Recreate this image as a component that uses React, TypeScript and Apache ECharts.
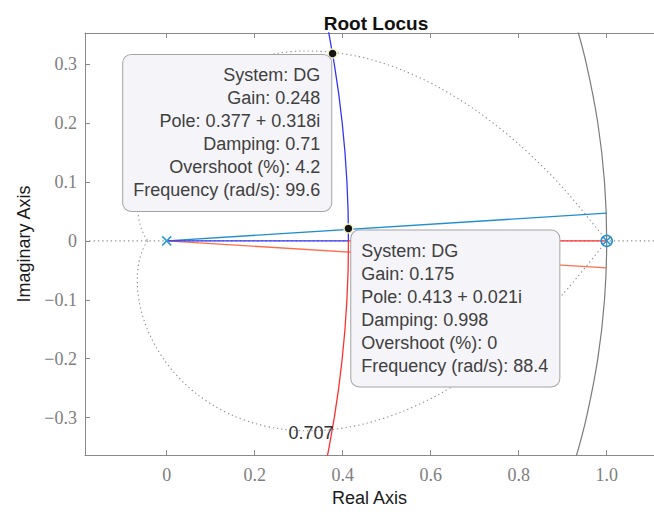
import React, { useEffect, useRef } from 'react';
import * as echarts from 'echarts';

// ---- Axis ticks ----
const xTickValues = [0, 0.2, 0.4, 0.6, 0.8, 1.0];
const xTickLabels = ['0', '0.2', '0.4', '0.6', '0.8', '1.0'];
const yTickValues = [-0.3, -0.2, -0.1, 0, 0.1, 0.2, 0.3];
const yTickLabels = ['\u22120.3', '\u22120.2', '\u22120.1', '0', '0.1', '0.2', '0.3'];

const xRange = [-0.1857, 1.1075];
const yRange = [-0.3636, 0.3528];

// ---- Root locus branches ----
const blueBranch = [
  [0, 0], [0.413, 0], [0.4123, 0.05], [0.4096, 0.1], [0.4052, 0.15], [0.3989, 0.2],
  [0.3909, 0.25], [0.3809, 0.3], [0.3691, 0.35], [0.3639, 0.37],
];
const redBranch = [
  [1, 0], [0.413, 0], [0.4123, -0.05], [0.4096, -0.1], [0.4052, -0.15], [0.3989, -0.2],
  [0.3909, -0.25], [0.3809, -0.3], [0.3691, -0.35], [0.3639, -0.37],
];
const cyanBranch = [[0, 0], [1, 0.047]];
const orangeBranch = [[0, 0], [1, -0.046]];

// ---- Unit circle ----
const unitCircle = [
  [0.929, -0.37], [0.9539, -0.3], [0.9798, -0.2], [0.995, -0.1], [1, 0],
  [0.995, 0.1], [0.9798, 0.2], [0.9539, 0.3], [0.929, 0.37],
];

// ---- Damping 0.707 curve (dotted) ----
const dampingUpper = [
  [1, 0], [0.9003, 0.0903], [0.8024, 0.1627], [0.7077, 0.2189], [0.6174, 0.261],
  [0.5323, 0.2908], [0.4529, 0.3099], [0.3798, 0.3199], [0.313, 0.3223], [0.2527, 0.3185],
  [0.1988, 0.3096], [0.151, 0.2967], [0.1092, 0.2807], [0.0729, 0.2626], [0.0419, 0.243],
  [0.0158, 0.2226], [-0.0059, 0.2018], [-0.0235, 0.1812], [-0.0376, 0.161], [-0.0484, 0.1416],
  [-0.0563, 0.1231], [-0.0618, 0.1057], [-0.0652, 0.0896], [-0.0668, 0.0748], [-0.0669, 0.0613],
  [-0.0658, 0.0491], [-0.0637, 0.0383], [-0.0608, 0.0287], [-0.0573, 0.0204], [-0.0534, 0.0132],
  [-0.0493, 0.007], [-0.0432, 0],
];
const dampingLower = [
  [-0.0432, 0], [-0.0493, -0.007], [-0.0534, -0.0132], [-0.0573, -0.0204], [-0.0608, -0.0287],
  [-0.0637, -0.0383], [-0.0658, -0.0491], [-0.0669, -0.0613], [-0.0668, -0.0748], [-0.0652, -0.0896],
  [-0.0618, -0.1057], [-0.0563, -0.1231], [-0.0484, -0.1416], [-0.0376, -0.161], [-0.0235, -0.1812],
  [-0.0059, -0.2018], [0.0158, -0.2226], [0.0419, -0.243], [0.0729, -0.2626], [0.1092, -0.2807],
  [0.151, -0.2967], [0.1988, -0.3096], [0.2527, -0.3185], [0.313, -0.3223], [0.3798, -0.3199],
  [0.4529, -0.3099], [0.5323, -0.2908], [0.6174, -0.261], [0.7077, -0.2189], [0.8024, -0.1627],
  [0.9003, -0.0903], [1, 0],
];
const realAxisGuide = [[-0.1857, 0], [1.1075, 0]];
const dampingLabelPoint = [[0.328, -0.326]];
const dampingLabelText = '0.707';

// ---- Poles / zeros ----
const polePoints = [[0, 0]];
const poleZeroPoints = [[1, 0]];

// ---- Data tips ----
const tipPoints = [[0.377, 0.318], [0.413, 0.021]];
const tipTexts = [
  ['System: DG', 'Gain: 0.248', 'Pole: 0.377 + 0.318i', 'Damping: 0.71', 'Overshoot (%): 4.2', 'Frequency (rad/s): 99.6'],
  ['System: DG', 'Gain: 0.175', 'Pole: 0.413 + 0.021i', 'Damping: 0.998', 'Overshoot (%): 0', 'Frequency (rad/s): 88.4'],
];

const SANS = '"Liberation Sans", Arial, Helvetica, sans-serif';
const SERIF = '"Liberation Serif", "DejaVu Serif", serif';
const AXIS_COLOR = '#8a8a8a';
const DOT_STYLE = { color: '#8c8c8c', width: 1.1, type: [1.3, 3] as number[] };

function fmt(values: number[], labels: string[]) {
  return (v: number) => {
    const i = values.findIndex((t) => Math.abs(t - v) < 1e-9);
    return i >= 0 ? labels[i] : '';
  };
}

export default function App() {
  const ref = useRef<HTMLDivElement>(null);
  useEffect(() => {
    if (!ref.current) return;
    const chart = echarts.init(ref.current, undefined, { renderer: 'svg' });
    const lineBase = { type: 'line', showSymbol: false, symbol: 'none', silent: true };
    const option: any = {
      animation: false,
      backgroundColor: '#ffffff',
      title: {
        text: 'Root Locus',
        left: 371,
        textAlign: 'center',
        top: 9,
        textStyle: { fontFamily: SANS, fontSize: 19, fontWeight: 'bold', color: '#111111' },
      },
      grid: { left: 85, top: 33, right: 0, bottom: 52, containLabel: false },
      xAxis: [
        {
          type: 'value', min: xRange[0], max: xRange[1], position: 'bottom',
          name: 'Real Axis', nameLocation: 'middle', nameGap: 32,
          nameTextStyle: { fontFamily: SANS, fontSize: 18, color: '#1a1a1a' },
          axisLine: { show: true, onZero: false, lineStyle: { color: AXIS_COLOR, width: 1 } },
          axisTick: { show: true, inside: true, length: 5, customValues: xTickValues, lineStyle: { color: AXIS_COLOR } },
          axisLabel: {
            show: true, customValues: xTickValues, margin: 11, formatter: fmt(xTickValues, xTickLabels),
            fontFamily: SERIF, fontSize: 18, color: '#7e7e7e',
          },
          splitLine: { show: false },
        },
        {
          type: 'value', min: xRange[0], max: xRange[1], position: 'top',
          axisLine: { show: true, onZero: false, lineStyle: { color: AXIS_COLOR, width: 1 } },
          axisTick: { show: true, inside: true, length: 5, customValues: xTickValues, lineStyle: { color: AXIS_COLOR } },
          axisLabel: { show: false },
          splitLine: { show: false },
        },
      ],
      yAxis: [
        {
          type: 'value', min: yRange[0], max: yRange[1], position: 'left',
          name: 'Imaginary Axis', nameLocation: 'middle', nameGap: 51,
          nameTextStyle: { fontFamily: SANS, fontSize: 18, color: '#1a1a1a' },
          axisLine: { show: true, onZero: false, lineStyle: { color: AXIS_COLOR, width: 1 } },
          axisTick: { show: true, inside: true, length: 5, customValues: yTickValues, lineStyle: { color: AXIS_COLOR } },
          axisLabel: {
            show: true, customValues: yTickValues, margin: 8, formatter: fmt(yTickValues, yTickLabels),
            fontFamily: SERIF, fontSize: 18, color: '#7e7e7e',
          },
          splitLine: { show: false },
        },
      ],
      series: [
        { ...lineBase, name: 'realGuide', data: realAxisGuide, lineStyle: DOT_STYLE, z: 1 },
        { ...lineBase, name: 'dampUp', data: dampingUpper, smooth: 0.3, lineStyle: DOT_STYLE, z: 1 },
        { ...lineBase, name: 'dampLo', data: dampingLower, smooth: 0.3, lineStyle: DOT_STYLE, z: 1 },
        { ...lineBase, name: 'unit', data: unitCircle, smooth: 0.4, lineStyle: { color: '#7a7a7a', width: 1.2 }, z: 2 },
        { ...lineBase, name: 'cyan', data: cyanBranch, lineStyle: { color: '#1f8ecf', width: 1.3 }, z: 3 },
        { ...lineBase, name: 'orange', data: orangeBranch, lineStyle: { color: '#ff6e4a', width: 1.3 }, z: 3 },
        { ...lineBase, name: 'blue', data: blueBranch, lineStyle: { color: '#3535f5', width: 1.3 }, z: 3 },
        { ...lineBase, name: 'red', data: redBranch, lineStyle: { color: '#ff2f2f', width: 1.3 }, z: 3 },
        {
          type: 'scatter', name: 'poles', data: polePoints, silent: true, z: 5,
          symbol: 'path://M0 0L10 10M10 0L0 10', symbolSize: 9,
          itemStyle: { color: 'transparent', borderColor: '#2f9ad8', borderWidth: 1.6, opacity: 1 },
        },
        {
          type: 'scatter', name: 'pzCircle', data: poleZeroPoints, silent: true, z: 5,
          symbol: 'circle', symbolSize: 11,
          itemStyle: { color: 'transparent', borderColor: '#2090d0', borderWidth: 1.6, opacity: 1 },
        },
        {
          type: 'scatter', name: 'pzCross', data: poleZeroPoints, silent: true, z: 5,
          symbol: 'path://M0 0L10 10M10 0L0 10', symbolSize: 7,
          itemStyle: { color: 'transparent', borderColor: '#2090d0', borderWidth: 1.4, opacity: 1 },
        },
        {
          type: 'scatter', name: 'dampLabel', data: dampingLabelPoint, silent: true, z: 6,
          symbolSize: 1, itemStyle: { color: 'transparent', opacity: 1 },
          label: {
            show: true, position: 'inside', formatter: dampingLabelText,
            fontFamily: SANS, fontSize: 18, color: '#333333',
          },
        },
        {
          type: 'scatter', name: 'tips', silent: true, z: 10,
          symbol: 'circle', symbolSize: 9,
          itemStyle: { color: '#151515', borderColor: '#f2f2c4', borderWidth: 1.5, opacity: 1 },
          data: [
            {
              value: tipPoints[0],
              label: {
                show: true, position: [3.9, 6.7], align: 'right', verticalAlign: 'top',
                formatter: tipTexts[0].join('\n'),
              },
            },
            {
              value: tipPoints[1],
              label: {
                show: true, position: [8.1, 7.2], align: 'left', verticalAlign: 'top',
                formatter: tipTexts[1].join('\n'),
              },
            },
          ],
          label: {
            fontFamily: SANS, fontSize: 18, lineHeight: 23, color: '#404040',
            backgroundColor: '#f5f5f9', borderColor: '#a4a4a4', borderWidth: 1, borderRadius: 8,
            padding: [9, 11, 9, 10],
          },
        },
      ],
    };
    chart.setOption(option);
    return () => chart.dispose();
  }, []);
  return (
    <div
      ref={ref}
      style={{ position: 'fixed', left: 0, top: 0, width: 654, height: 512, background: '#fff' }}
    />
  );
}
